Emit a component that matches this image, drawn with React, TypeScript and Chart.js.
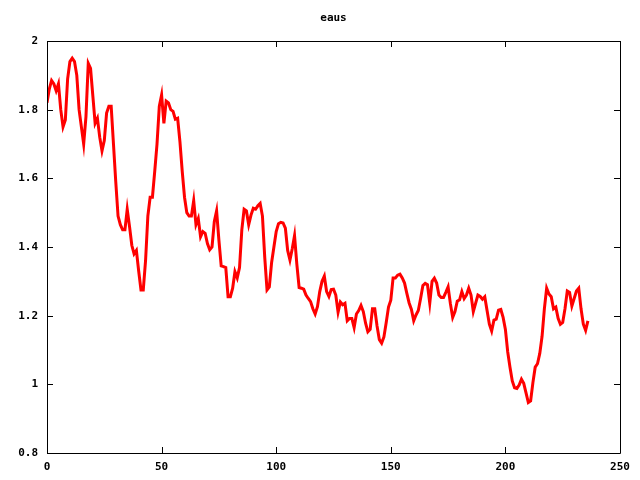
import React, { useEffect, useRef } from "react";
import { Chart, registerables } from "chart.js";

Chart.register(...registerables);

const TITLE = "eaus";
const X_TICKS = [0, 50, 100, 150, 200, 250];
const Y_TICKS = [0.8, 1, 1.2, 1.4, 1.6, 1.8, 2];

const SERIES: number[] = [
  1.82, 1.86, 1.885, 1.875, 1.855, 1.875, 1.8, 1.75, 1.77, 1.89,
  1.94, 1.95, 1.94, 1.9, 1.8, 1.75, 1.7, 1.78, 1.935, 1.92,
  1.84, 1.76, 1.775, 1.72, 1.68, 1.71, 1.79, 1.81, 1.81, 1.7,
  1.59, 1.49, 1.465, 1.45, 1.45, 1.51, 1.46, 1.405, 1.38, 1.39,
  1.33, 1.275, 1.275, 1.36, 1.49, 1.545, 1.545, 1.62, 1.7, 1.81,
  1.843, 1.76, 1.825, 1.82, 1.8, 1.795, 1.772, 1.775, 1.707, 1.62,
  1.545, 1.5, 1.49, 1.49, 1.535, 1.465, 1.483, 1.43, 1.445, 1.44,
  1.41, 1.392, 1.4, 1.474, 1.505, 1.42, 1.345, 1.343, 1.34, 1.255,
  1.255, 1.28, 1.328, 1.31, 1.34, 1.45, 1.51, 1.505, 1.465, 1.493,
  1.513, 1.51, 1.52, 1.527, 1.49, 1.37, 1.275, 1.284, 1.355, 1.4,
  1.445, 1.468, 1.472, 1.47, 1.455, 1.39, 1.362, 1.395, 1.433, 1.35,
  1.282, 1.28, 1.277, 1.26, 1.25, 1.241, 1.22, 1.205, 1.226, 1.27,
  1.3, 1.315, 1.27, 1.256, 1.276, 1.277, 1.26, 1.21, 1.24, 1.232,
  1.236, 1.185, 1.192, 1.192, 1.165, 1.205, 1.215, 1.23, 1.212, 1.178,
  1.153, 1.16, 1.22, 1.22, 1.17, 1.13, 1.12, 1.138, 1.18, 1.225,
  1.245, 1.31, 1.31, 1.318, 1.321, 1.31, 1.295, 1.265, 1.237, 1.218,
  1.185, 1.202, 1.215, 1.25, 1.288, 1.294, 1.29, 1.236, 1.3, 1.309,
  1.295, 1.26, 1.253, 1.253, 1.268, 1.284, 1.235, 1.195, 1.212, 1.242,
  1.246, 1.27, 1.25, 1.26, 1.28, 1.26, 1.212, 1.236, 1.26, 1.256,
  1.248, 1.255, 1.215, 1.175, 1.155, 1.187, 1.19, 1.216, 1.218, 1.195,
  1.16, 1.095, 1.05, 1.01, 0.99, 0.988, 0.998, 1.015, 1.003, 0.975,
  0.947, 0.952, 1.005, 1.05, 1.06, 1.09, 1.14, 1.22, 1.28, 1.263,
  1.255, 1.22, 1.225, 1.192, 1.175, 1.18, 1.22, 1.272, 1.268, 1.228,
  1.25, 1.272, 1.28, 1.22, 1.175, 1.157, 1.185,
];

const FONT = "'DejaVu Sans Mono', monospace";

const framePlugin = {
  id: "gnuplotFrame",
  afterDraw(chart: any) {
    const { ctx, chartArea, scales } = chart;
    const { left, right, top, bottom } = chartArea;
    ctx.save();
    ctx.strokeStyle = "#000";
    ctx.lineWidth = 1;
    ctx.beginPath();
    ctx.rect(left + 0.5, top + 0.5, right - left, bottom - top);
    ctx.stroke();
    const tl = 6;
    ctx.beginPath();
    X_TICKS.forEach((v) => {
      const x = Math.round(scales.x.getPixelForValue(v)) + 0.5;
      ctx.moveTo(x, bottom);
      ctx.lineTo(x, bottom - tl);
      ctx.moveTo(x, top);
      ctx.lineTo(x, top + tl);
    });
    Y_TICKS.forEach((v) => {
      const y = Math.round(scales.y.getPixelForValue(v)) + 0.5;
      ctx.moveTo(left, y);
      ctx.lineTo(left + tl, y);
      ctx.moveTo(right, y);
      ctx.lineTo(right - tl, y);
    });
    ctx.stroke();
    ctx.fillStyle = "#000";
    ctx.font = `bold 11px ${FONT}`;
    ctx.textAlign = "center";
    ctx.textBaseline = "middle";
    ctx.fillText(TITLE, (left + right) / 2, 18);
    ctx.restore();
  },
};

export default function App() {
  const ref = useRef<HTMLCanvasElement | null>(null);
  useEffect(() => {
    document.body.style.margin = "0";
    const canvas = ref.current;
    if (!canvas) return;
    const chart = new Chart(canvas, {
      type: "line",
      data: {
        datasets: [
          {
            data: SERIES.map((y, i) => ({ x: i, y })),
            borderColor: "#ff0000",
            borderWidth: 3,
            pointRadius: 0,
            tension: 0,
            fill: false,
          },
        ],
      },
      options: {
        responsive: false,
        animation: false,
        layout: { padding: { top: 41, right: 20, left: 0, bottom: 0 } },
        plugins: {
          legend: { display: false },
          title: { display: false },
          tooltip: { enabled: false },
        },
        scales: {
          x: {
            type: "linear",
            min: 0,
            max: 250,
            afterBuildTicks: (s: any) => {
              s.ticks = X_TICKS.map((v) => ({ value: v }));
            },
            afterFit: (s: any) => {
              s.height = 27;
            },
            grid: { display: false, drawTicks: false },
            border: { display: false },
            ticks: {
              color: "#000",
              padding: 8,
              maxRotation: 0,
              font: { family: FONT, size: 11, weight: "bold" },
              callback: (v: any) => String(v),
            },
          },
          y: {
            type: "linear",
            min: 0.8,
            max: 2,
            afterBuildTicks: (s: any) => {
              s.ticks = Y_TICKS.map((v) => ({ value: v }));
            },
            afterFit: (s: any) => {
              s.width = 47;
            },
            grid: { display: false, drawTicks: false },
            border: { display: false },
            ticks: {
              color: "#000",
              padding: 9,
              font: { family: FONT, size: 11, weight: "bold" },
              callback: (v: any) => String(Number(Number(v).toFixed(1))),
            },
          },
        },
      },
      plugins: [framePlugin],
    });
    return () => chart.destroy();
  }, []);
  return <canvas ref={ref} width={640} height={480} style={{ display: "block" }} />;
}
